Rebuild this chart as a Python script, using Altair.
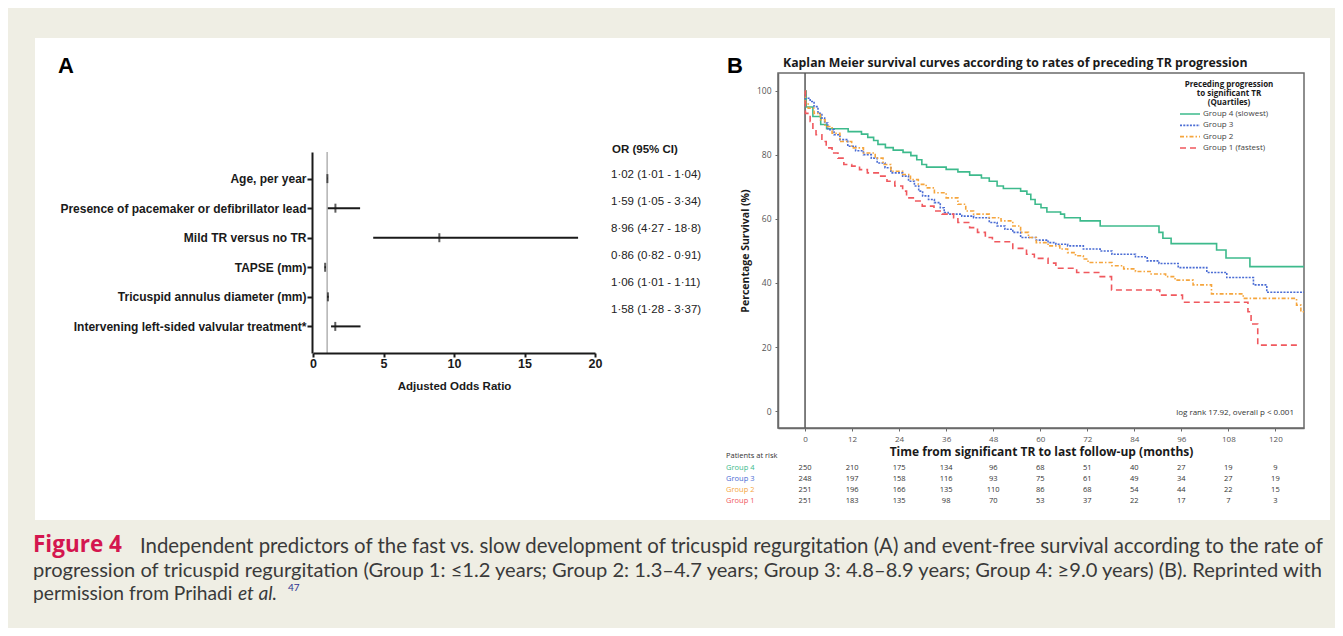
import altair as alt
import pandas as pd

# ---------------- Panel A : forest plot ----------------
predictors = [
    "Age, per year",
    "Presence of pacemaker or defibrillator lead",
    "Mild TR versus no TR",
    "TAPSE (mm)",
    "Tricuspid annulus diameter (mm)",
    "Intervening left-sided valvular treatment*",
]
odds_ratio = [1.02, 1.59, 8.96, 0.86, 1.06, 1.58]
ci_low = [1.01, 1.05, 4.27, 0.82, 1.01, 1.28]
ci_high = [1.04, 3.34, 18.8, 0.91, 1.11, 3.37]
or_strings = [
    "1·02 (1·01 - 1·04)",
    "1·59 (1·05 - 3·34)",
    "8·96 (4·27 - 18·8)",
    "0·86 (0·82 - 0·91)",
    "1·06 (1·01 - 1·11)",
    "1·58 (1·28 - 3·37)",
]
forest_ticks = [0, 5, 10, 15, 20]
reference_or = [1]

# ---------------- Panel B : Kaplan-Meier ----------------
groups = ["Group 4 (slowest)", "Group 3", "Group 2", "Group 1 (fastest)"]
row_labels = ["Group 4", "Group 3", "Group 2", "Group 1"]
group_colors = ["#3dba8c", "#4a6cd4", "#f5a53d", "#f0585e"]
group_dashes = [[1, 0], [2, 1.3], [4, 2, 1.5, 2], [6, 4]]
legend_title = ["Preceding progression", "to significant TR", "(Quartiles)"]

g4_time = [0, 0.3, 2, 4, 5.5, 11, 14.4, 16, 17.5, 18.6, 20.5, 22.5, 25, 27, 28.5,
           29.8, 31, 36, 39, 42, 45, 47, 49, 50.6, 55, 56.6, 57.6, 58.7, 60.2, 61.7,
           65.2, 66.2, 70.2, 75.3, 90.3, 91.3, 93.4, 105, 107.4, 113.5, 127.3]
g4_surv = [100, 95, 92, 89.5, 88.2, 87.3, 86.5, 85.5, 84.5, 83.3, 82.3, 81.5, 80.8, 79.8, 78.5,
           77, 76.2, 75.5, 74.7, 73.7, 72.8, 71.8, 70.3, 69.5, 68.7, 67.7, 66.1, 64.6, 63.5, 62.2,
           61.5, 60.4, 59.4, 57.8, 55.8, 54, 52.3, 50.3, 47.8, 45.1, 45.1]

g3_time = [0, 0.1, 1.3, 2.3, 3.3, 4.3, 5, 5.8, 7.4, 8.9, 10.9, 12.9, 14.9, 16.9, 18.4,
           20.4, 21.9, 24.9, 26.4, 27.9, 29, 30, 31.5, 33, 34.5, 35.5, 36.5, 40, 43, 47,
           49, 51, 53, 55, 59, 62, 64, 67, 71, 75.3, 78.3, 84.3, 87.3, 90.3, 95.2,
           102.5, 107.6, 114.4, 117.8, 127.3]
g3_surv = [100, 97.7, 96.7, 95.1, 93, 91.5, 90, 87.9, 86.3, 84.8, 82.7, 81.3, 80.1, 79, 77.5,
           76, 74.4, 73.4, 71.8, 70.3, 68.7, 67.2, 66.1, 65.1, 63.5, 62, 61.5, 60.9, 60.4, 58.9,
           57.8, 56.8, 55.8, 54.2, 53.4, 52.6, 52.1, 51.6, 50.6, 50, 49, 48.2, 46.9, 46.1, 44.8,
           43.3, 41.7, 39.4, 37.1, 37.1]

g2_time = [0, 0.1, 0.8, 2.3, 3.9, 5.1, 6.9, 8.9, 11.9, 14.9, 17.9, 19.9, 21.9, 24.9, 26.9,
           28.9, 30.9, 33, 36, 39, 41, 43, 47, 50, 53, 55, 57, 59, 62, 65,
           67, 69, 71, 72.2, 78.3, 81.3, 84.3, 88.3, 92, 94.4, 99, 103.7, 111.8, 125.4,
           126.5, 127.3]
g2_surv = [100, 96.2, 94.6, 93, 91, 88.9, 86.8, 84.2, 82.2, 80.6, 79, 77, 74.9, 73.9, 72.3,
           70.8, 69.7, 68.2, 66.6, 64.6, 62.5, 61.5, 60.4, 59.4, 57.8, 55.8, 54.2, 52.6, 51.6, 50.6,
           49.5, 48.5, 47.5, 46.4, 45.4, 44.4, 43.6, 42.8, 42, 40.9, 39.4, 36.6, 35.2, 33.1,
           31, 31]

g1_time = [0, 0.1, 1.3, 2, 2.8, 4.3, 5.4, 6.9, 8.4, 9.9, 11.9, 13.9, 15.9, 18.9, 20.9,
           22.9, 24.9, 25.9, 27.9, 29.9, 32.9, 34.9, 37.9, 39, 42, 44, 46, 47.8, 53, 56.5,
           58.5, 62, 64, 69.3, 75.3, 78.2, 90.5, 96.3, 113, 113.8, 115.5, 126.3]
g1_surv = [100, 93, 90.5, 87.9, 86.3, 84.2, 82.2, 80.6, 79, 77, 76.5, 75.4, 74.4, 73.4, 71.8,
           70.3, 68.7, 66.6, 65.6, 64, 62.5, 61.5, 60.4, 58.9, 57.3, 55.8, 54.2, 52.9, 50.8, 49,
           47.7, 46.2, 44.6, 43.3, 42, 37.8, 36.2, 34, 31, 27.2, 20.6, 20.6]

risk_times = [0, 12, 24, 36, 48, 60, 72, 84, 96, 108, 120]
risk_g4 = [250, 210, 175, 134, 96, 68, 51, 40, 27, 19, 9]
risk_g3 = [248, 197, 158, 116, 93, 75, 61, 49, 34, 27, 19]
risk_g2 = [251, 196, 166, 135, 110, 86, 68, 54, 44, 22, 15]
risk_g1 = [251, 183, 135, 98, 70, 53, 37, 22, 17, 7, 3]
km_y_ticks = [0, 20, 40, 60, 80, 100]

# ---------------- Caption ----------------
cap_head = "Figure 4"
cap_line1 = ("Independent predictors of the fast vs. slow development of tricuspid regurgitation (A) "
             "and event-free survival according to the rate of")
cap_line2 = ("progression of tricuspid regurgitation (Group 1: ≤1.2 years; Group 2: 1.3–4.7 years; "
             "Group 3: 4.8–8.9 years; Group 4: ≥9.0 years) (B). Reprinted with")
cap_line3 = "permission from Prihadi"
cap_etal = "et al."
cap_ref = "47"

# ---------------- tables ----------------
forest_df = pd.DataFrame({"predictor": predictors, "or": odds_ratio, "lo": ci_low,
                          "hi": ci_high, "txt": or_strings})
km_rows = []
for g, ts, ss in zip(groups, [g4_time, g3_time, g2_time, g1_time],
                     [g4_surv, g3_surv, g2_surv, g1_surv]):
    for t, s in zip(ts, ss):
        km_rows.append({"group": g, "t": t, "s": s})
km_df = pd.DataFrame(km_rows)
risk_rows = []
for lab, counts in zip(row_labels, [risk_g4, risk_g3, risk_g2, risk_g1]):
    for t, n in zip(risk_times, counts):
        risk_rows.append({"row": lab, "t": t, "n": str(n)})
risk_df = pd.DataFrame(risk_rows)
labels_df = pd.DataFrame({"row": row_labels})
legend_df = pd.DataFrame({"group": groups})


def one():
    return alt.Data(values=[{"k": 1}])


FA = "Liberation Sans"
FB = "Open Sans"
FC = "Lato"
INK = "#1a1a1a"

# forest scales
fx = alt.Scale(domain=[0, 20], range=[305, 587], nice=False, zero=False)
fy = alt.Scale(type="point", domain=predictors, range=[144, 345], padding=0.9)
# KM scales
kx = alt.Scale(domain=[-6.9, 127.3], range=[770, 1296], nice=False, zero=False)
ky = alt.Scale(domain=[-5.3, 105.6], range=[420, 65], nice=False, zero=False)
rowy = alt.Scale(type="point", domain=row_labels, range=[460, 493], padding=0)
legy = alt.Scale(type="point", domain=groups, range=[106, 140], padding=0)
color_scale = alt.Scale(domain=groups, range=group_colors)
dash_scale = alt.Scale(domain=groups, range=group_dashes)
row_color = alt.Scale(domain=row_labels, range=group_colors)

layers = []

# white panel
layers.append(alt.Chart(one()).mark_rect(color="white").encode(
    x=alt.value(27), x2=alt.value(1322), y=alt.value(30), y2=alt.value(512)))

# ---- panel A ----
layers.append(alt.Chart(alt.Data(values=[{"x": v} for v in reference_or])).mark_rule(
    color="#8c8c8c", strokeWidth=1).encode(
    x=alt.X("x:Q", scale=fx, axis=None), y=alt.value(144), y2=alt.value(345)))

layers.append(alt.Chart(forest_df).mark_rule(color=INK, strokeWidth=2).encode(
    x=alt.X("lo:Q", scale=fx, axis=alt.Axis(
        orient="bottom", offset=-275, values=forest_ticks, title="Adjusted Odds Ratio", zindex=2,
        domainColor=INK, domainWidth=2, tickColor=INK, tickWidth=2, tickSize=4,
        labelFont=FA, labelFontSize=12.5, labelFontWeight="bold", labelColor=INK, labelPadding=0,
        labelFlush=False,
        titleFont=FA, titleFontSize=11.5, titleFontWeight="bold", titleColor=INK, titlePadding=11,
        grid=False)),
    x2="hi:Q",
    y=alt.Y("predictor:N", scale=fy, axis=alt.Axis(
        orient="left", offset=-304, title=None, zindex=2, domainColor=INK, domainWidth=2,
        tickColor=INK, tickWidth=2, tickSize=5, labelFont=FA, labelFontSize=12,
        labelFontWeight="bold", labelColor=INK, labelPadding=1, labelLimit=0, grid=False))))

layers.append(alt.Chart(forest_df).mark_tick(color=INK, thickness=2, size=9).encode(
    x=alt.X("or:Q", scale=fx, axis=None),
    y=alt.Y("predictor:N", scale=fy, axis=None)))

layers.append(alt.Chart(one()).mark_text(
    text="OR (95% CI)", font=FA, fontSize=11.5, fontWeight="bold", color=INK,
    align="left", baseline="middle").encode(x=alt.value(604), y=alt.value(142)))

layers.append(alt.Chart(forest_df).mark_text(
    font=FA, fontSize=11.5, color="#222", align="left", baseline="middle").encode(
    x=alt.value(603),
    y=alt.Y("predictor:N", scale=alt.Scale(type="point", domain=predictors,
                                           range=[167, 302], padding=0), axis=None),
    text="txt:N"))

# panel letters
layers.append(alt.Chart(alt.Data(values=[{"l": "A", "px": 50}, {"l": "B", "px": 719}])).mark_text(
    font=FA, fontSize=22, fontWeight="bold", color="black", align="left", baseline="middle").encode(
    x=alt.X("px:Q", scale=alt.Scale(domain=[0, 1327], range=[0, 1327]), axis=None),
    y=alt.value(58), text="l:N"))

# ---- panel B ----
layers.append(alt.Chart(one()).mark_text(
    text="Kaplan Meier survival curves according to rates of preceding TR progression",
    font=FB, fontSize=12.3, fontWeight="bold", color=INK, align="left", baseline="middle").encode(
    x=alt.value(775), y=alt.value(55)))

layers.append(alt.Chart(one()).mark_rect(fillOpacity=0, stroke="#6a6a6a", strokeWidth=1.5).encode(
    x=alt.value(770), x2=alt.value(1296), y=alt.value(65), y2=alt.value(420)))

layers.append(alt.Chart(alt.Data(values=[{"t": 0}])).mark_rule(color="#555", strokeWidth=1.5).encode(
    x=alt.X("t:Q", scale=kx, axis=None), y=alt.value(65), y2=alt.value(420)))

layers.append(alt.Chart(km_df).mark_line(interpolate="step-after", strokeWidth=1.6).encode(
    x=alt.X("t:Q", scale=kx, axis=alt.Axis(
        orient="bottom", offset=-200, values=risk_times, zindex=2, labelFlush=False,
        title="Time from significant TR to last follow-up  (months)",
        domainColor="#6a6a6a", domainWidth=1.5, tickColor="#6a6a6a", tickSize=3,
        labelFont=FB, labelFontSize=8, labelColor="#555", labelPadding=4,
        titleFont=FB, titleFontSize=12, titleFontWeight="bold", titleColor=INK, titlePadding=3,
        grid=False)),
    y=alt.Y("s:Q", scale=ky, axis=alt.Axis(
        orient="left", offset=-770, values=km_y_ticks, title="Percentage Survival (%)", zindex=2,
        domainColor="#6a6a6a", domainWidth=1.5, tickColor="#6a6a6a", tickSize=3,
        labelFont=FB, labelFontSize=8.5, labelColor="#555", labelPadding=4,
        titleFont=FB, titleFontSize=10.5, titleFontWeight="bold", titleColor=INK, titlePadding=6,
        grid=False)),
    color=alt.Color("group:N", scale=color_scale, legend=None),
    strokeDash=alt.StrokeDash("group:N", scale=dash_scale, legend=None)))

# legend (drawn from the group list)
layers.append(alt.Chart(one()).mark_text(
    text=legend_title, font=FB, fontSize=8, fontWeight="bold", color=INK, lineHeight=9,
    align="center", baseline="top").encode(x=alt.value(1221), y=alt.value(73)))
layers.append(alt.Chart(legend_df).mark_rule(strokeWidth=1.6).encode(
    x=alt.value(1172), x2=alt.value(1192),
    y=alt.Y("group:N", scale=legy, axis=None),
    color=alt.Color("group:N", scale=color_scale, legend=None),
    strokeDash=alt.StrokeDash("group:N", scale=dash_scale, legend=None)))
layers.append(alt.Chart(legend_df).mark_text(
    font=FB, fontSize=8, color="#444", align="left", baseline="middle").encode(
    x=alt.value(1195),
    y=alt.Y("group:N", scale=legy, axis=None),
    text="group:N"))

layers.append(alt.Chart(one()).mark_text(
    text="log rank 17.92, overall p < 0.001", font=FB, fontSize=8, color="#333",
    align="right", baseline="middle").encode(x=alt.value(1286), y=alt.value(405)))

# patients at risk table
layers.append(alt.Chart(one()).mark_text(
    text="Patients at risk", font=FB, fontSize=7.5, color="#333",
    align="left", baseline="middle").encode(x=alt.value(718), y=alt.value(448)))

layers.append(alt.Chart(labels_df).mark_text(
    font=FB, fontSize=7.5, align="left", baseline="middle").encode(
    x=alt.value(718),
    y=alt.Y("row:N", scale=rowy, axis=None),
    color=alt.Color("row:N", scale=row_color, legend=None),
    text="row:N"))

layers.append(alt.Chart(risk_df).mark_text(
    font=FB, fontSize=7.5, color="#333", align="center", baseline="middle").encode(
    x=alt.X("t:Q", scale=kx, axis=None),
    y=alt.Y("row:N", scale=rowy, axis=None),
    text="n:N"))

# ---- caption ----
CAP = "#3a3a3a"
CS = 20.4
CS3 = 19.2
layers.append(alt.Chart(one()).mark_text(
    text=cap_head, font=FB, fontSize=22.5, fontWeight="bold", color="#d4164f",
    align="left", baseline="middle").encode(x=alt.value(25), y=alt.value(537)))
layers.append(alt.Chart(one()).mark_text(
    text=cap_line1, font=FC, fontSize=CS, color=CAP, align="left", baseline="middle").encode(
    x=alt.value(132), y=alt.value(539)))
layers.append(alt.Chart(one()).mark_text(
    text=cap_line2, font=FC, fontSize=20.1, color=CAP, align="left", baseline="middle").encode(
    x=alt.value(25), y=alt.value(563)))
layers.append(alt.Chart(one()).mark_text(
    text=cap_line3, font=FC, fontSize=CS3, color=CAP, align="left", baseline="middle").encode(
    x=alt.value(25), y=alt.value(586)))
layers.append(alt.Chart(one()).mark_text(
    text=cap_etal, font=FC, fontSize=CS3, fontStyle="italic", color=CAP,
    align="left", baseline="middle").encode(x=alt.value(230), y=alt.value(586)))
layers.append(alt.Chart(one()).mark_text(
    text=cap_ref, font=FC, fontSize=10, color="#2e3192",
    align="left", baseline="middle").encode(x=alt.value(280), y=alt.value(580)))

chart = alt.layer(*layers).resolve_scale(
    x="independent", y="independent", color="independent", strokeDash="independent"
).properties(
    width=1327, height=620, background="#efeee4", padding=0,
    autosize=alt.AutoSizeParams(type="none")
).configure_view(stroke=None).configure_axis(grid=False)

chart.save("out.html", embed_options={"renderer": "svg", "actions": False})
